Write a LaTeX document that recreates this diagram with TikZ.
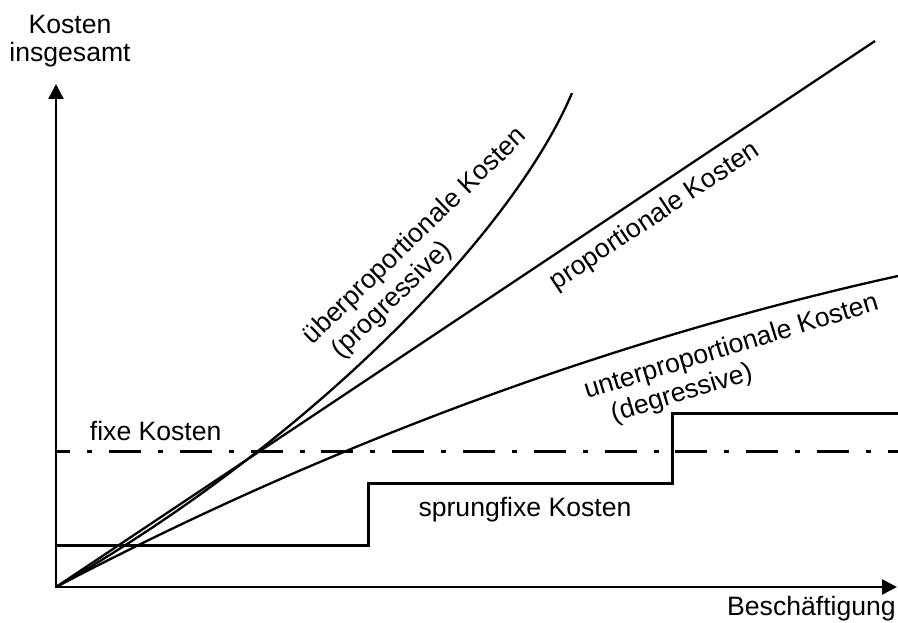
\documentclass[tikz,border=0pt]{standalone}
\usepackage{fontspec}
\setmainfont{Liberation Sans}
\usetikzlibrary{arrows.meta}
\begin{document}
\begin{tikzpicture}[x=1pt,y=-1pt,
  lbl/.style={font=\fontsize{26.6}{30}\selectfont, inner sep=0pt},
  ylbl/.style={font=\fontsize{26.6}{28}\selectfont, inner sep=0pt},
  axis/.style={line width=2.5pt, -{Triangle[length=15pt,width=15pt]}},
  curve/.style={line width=2.3pt},
  stepline/.style={line width=3pt},
  fixline/.style={line width=3pt, dash pattern=on 32pt off 17pt on 5pt off 16.8pt, dash phase=17.8pt},
]
\useasboundingbox (0,0) rectangle (898,623);
% named points
\coordinate (O) at (56,587);
\coordinate (ytip) at (56,84);
\coordinate (xtip) at (897,587);
\coordinate (propend) at (875,41);
\coordinate (ueberend) at (572,93);
\coordinate (unterend) at (898,276);
\coordinate (s0) at (56,545);
\coordinate (s1) at (368,545);
\coordinate (s2) at (368,483.5);
\coordinate (s3) at (672,483.5);
\coordinate (s4) at (672,413);
\coordinate (s5) at (898,413);
\coordinate (f0) at (56,451);
\coordinate (f1) at (898,451);
% fixed costs
\draw[fixline] (f0) -- (f1);
% step-fixed costs
\draw[stepline] (s0) -- (s1) -- (s2) -- (s3) -- (s4) -- (s5);
% cost curves
\draw[curve] (O) -- (propend);
\draw[curve] (O) .. controls (307,444) and (512,235) .. (ueberend);
\draw[curve] (O) .. controls (357,429) and (648,331) .. (unterend);
% axes
\draw[axis] (56,588.2) -- (ytip);
\draw[axis] (54.8,587) -- (xtip);
% labels
\node[ylbl] (ylabel) at (70,42.4) {\begin{tabular}{@{}c@{}}Kosten\\insgesamt\end{tabular}};
\node[lbl, anchor=base] (xlabel) at (811.5,615) {Beschäftigung};
\node[lbl, anchor=base] (fix) at (155.7,440.7) {fixe Kosten};
\node[lbl, anchor=base] (sprung) at (525,516.7) {sprungfixe Kosten};
\node[lbl, rotate=33.7] (prop) at (655,216.7) {proportionale Kosten};
\node[lbl, rotate=44] (ueber) at (426.5,247.8) {\begin{tabular}{@{}l@{}}überproportionale Kosten\\\hspace*{11pt}(progressive)\end{tabular}};
\node[lbl, rotate=17] (unter) at (736,362.8) {\begin{tabular}{@{}l@{}}unterproportionale Kosten\\\hspace*{19pt}(degressive)\end{tabular}};
\end{tikzpicture}
\end{document}
